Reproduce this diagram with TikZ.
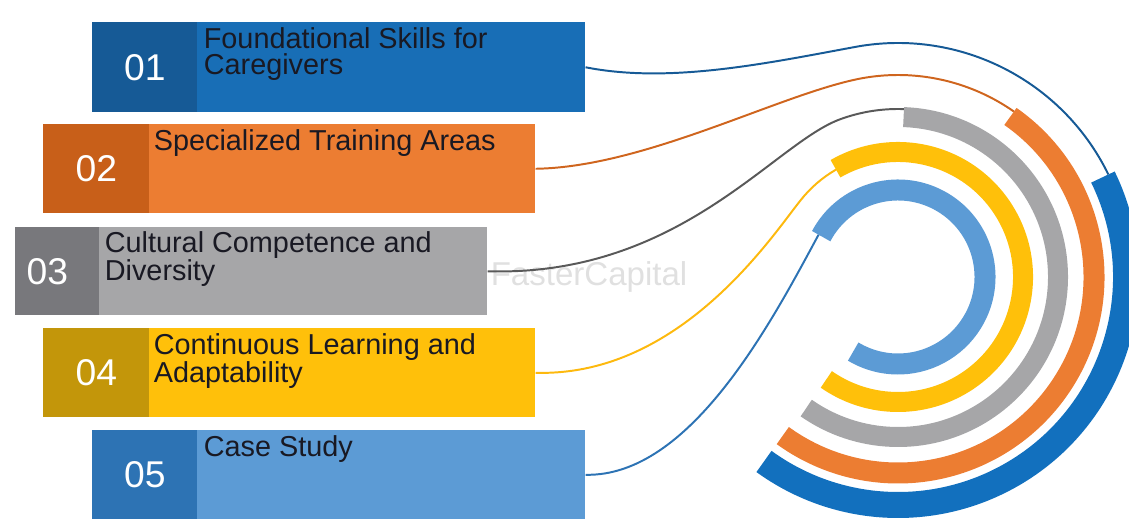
\documentclass[tikz,border=0pt]{standalone}
\usepackage{fontspec}
\setmainfont{Liberation Sans}
\usepackage{tikz}
\usetikzlibrary{positioning}
\newcommand{\pxu}{0.025cm}
\definecolor{blueA}{RGB}{24,110,182}
\definecolor{blueAd}{RGB}{22,90,150}
\definecolor{orangeA}{RGB}{236,125,50}
\definecolor{orangeAd}{RGB}{200,95,25}
\definecolor{greyA}{RGB}{166,166,168}
\definecolor{greyAd}{RGB}{120,120,124}
\definecolor{yellowA}{RGB}{255,192,10}
\definecolor{yellowAd}{RGB}{195,150,10}
\definecolor{skyA}{RGB}{92,155,213}
\definecolor{skyAd}{RGB}{45,115,180}
\definecolor{ringblue}{RGB}{18,112,190}
\definecolor{inktext}{RGB}{25,25,35}
\tikzset{
    bar/.style={rectangle, inner sep=0pt, anchor=north west, minimum height=89*\pxu},
    numbox/.style={rectangle, inner sep=0pt, anchor=west, minimum width=105*\pxu,
        minimum height=89*\pxu, text=white, font=\fontsize{26.5pt}{26.5pt}\selectfont},
    bartext/.style={inner sep=0pt, anchor=north west, align=left, text=inktext,
        font=\fontsize{20.5pt}{18.7pt}\selectfont},
    ring/.style={line cap=butt},
    link/.style={line width=1.4pt},
    wmark/.style={text=black!12, font=\fontsize{23.5pt}{23.5pt}\selectfont}
}

\begin{document}
\begin{tikzpicture}[x=0.025cm, y=0.025cm]
\clip (0,0) rectangle (1129,519);
\coordinate (C) at (898,242);

\node[wmark] (wm) at (589,242) {FasterCapital};

% bars
\node[bar, fill=blueA, minimum width=493*\pxu, minimum height=90*\pxu] (b1) at (92,497) {};
\node[numbox, fill=blueAd, minimum height=90*\pxu] (n1) at (b1.west) {01};
\node[bartext] (t1) at ([shift={(6,-5)}]n1.north east) {Foundational Skills for\\Caregivers};

\node[bar, fill=orangeA, minimum width=492*\pxu] (b2) at (43,395) {};
\node[numbox, fill=orangeAd, minimum width=106*\pxu] (n2) at (b2.west) {02};
\node[bartext] (t2) at ([shift={(4,-5)}]n2.north east) {Specialized Training Areas};

\node[bar, fill=greyA, minimum width=472*\pxu, minimum height=88*\pxu] (b3) at (15,292) {};
\node[numbox, fill=greyAd, minimum width=84*\pxu, minimum height=88*\pxu] (n3) at (b3.west) {\hspace*{-0.5cm}03};
\node[bartext] (t3) at ([shift={(5,-4)}]n3.north east) {Cultural Competence and\\Diversity};

\node[bar, fill=yellowA, minimum width=492*\pxu] (b4) at (43,191) {};
\node[numbox, fill=yellowAd, minimum width=106*\pxu] (n4) at (b4.west) {04};
\node[bartext] (t4) at ([shift={(4,-5)}]n4.north east) {Continuous Learning and\\Adaptability};

\node[bar, fill=skyA, minimum width=493*\pxu] (b5) at (92,89) {};
\node[numbox, fill=skyAd] (n5) at (b5.west) {05};
\node[bartext] (t5) at ([shift={(6,-5)}]n5.north east) {Case Study};

% rings
\draw[ring, ringblue, line width=26*\pxu] (C) ++(26:228) arc[start angle=26, end angle=-126, radius=228];
\draw[ring, orangeA, line width=21*\pxu] (C) ++(55:196) arc[start angle=55, end angle=-126, radius=196];
\draw[ring, greyA, line width=20*\pxu] (C) ++(88:160) arc[start angle=88, end angle=-125, radius=160];
\draw[ring, yellowA, line width=20*\pxu] (C) ++(120:125) arc[start angle=120, end angle=-125, radius=125];
\draw[ring, skyA, line width=21*\pxu] (C) ++(152:87) arc[start angle=152, end angle=-121, radius=87];

% links
\path (C) ++(100:234) coordinate (j1);
\path (C) ++(98:202) coordinate (j2);
\path (C) ++(110:168) coordinate (j3);
\path (C) ++(142:124) coordinate (j4);
\path (C) ++(152:90) coordinate (j5);
\draw[link, blueAd] (b1.east) .. controls (670,435) and (768,456) .. (j1) arc[start angle=100, end angle=26, radius=234];
\draw[link, orangeAd!80!orangeA] (b2.east) .. controls (650,352) and (791,431) .. (j2) arc[start angle=98, end angle=55, radius=202];
\draw[link, black!65] (b3.east) .. controls (680,242) and (774,376) .. (j3) arc[start angle=110, end angle=88, radius=168];
\draw[link, yellowA!90!orangeA] (b4.east) .. controls (680,142) and (772,283) .. (j4) arc[start angle=142, end angle=120, radius=124];
\draw[link, skyAd] (b5.east) .. controls (690,42) and (771,196) .. (j5);
\end{tikzpicture}
\end{document}
